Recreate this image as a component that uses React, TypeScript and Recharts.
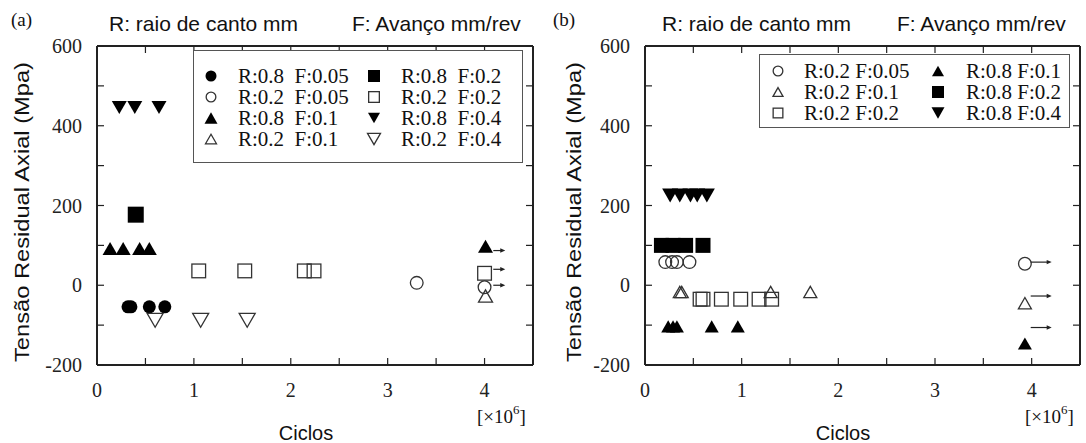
import React from 'react';
import { ScatterChart, Scatter, XAxis, YAxis, Legend } from 'recharts';

type Pt = { x: number; y: number };

// ---------- Panel (a) data ----------
const a_R08_F005: Pt[] = [
  { x: 0.32, y: -54 }, { x: 0.35, y: -54 }, { x: 0.54, y: -54 }, { x: 0.7, y: -54 },
];
const a_R02_F005: Pt[] = [{ x: 3.3, y: 6 }, { x: 4.0, y: -5 }];
const a_R08_F01: Pt[] = [
  { x: 0.135, y: 92 }, { x: 0.27, y: 92 }, { x: 0.44, y: 92 }, { x: 0.54, y: 92 }, { x: 4.01, y: 98 },
];
const a_R02_F01: Pt[] = [{ x: 4.01, y: -27 }];
const a_R08_F02: Pt[] = [{ x: 0.4, y: 177 }];
const a_R02_F02: Pt[] = [
  { x: 1.05, y: 36 }, { x: 1.525, y: 36 }, { x: 2.14, y: 36 }, { x: 2.24, y: 36 }, { x: 4.0, y: 30 },
];
const a_R08_F04: Pt[] = [{ x: 0.23, y: 446 }, { x: 0.39, y: 446 }, { x: 0.64, y: 446 }];
const a_R02_F04: Pt[] = [{ x: 0.6, y: -88 }, { x: 1.07, y: -88 }, { x: 1.55, y: -88 }];
const a_runout: Pt[] = [{ x: 4.09, y: 87 }, { x: 4.09, y: 40 }, { x: 4.09, y: 0 }];

// ---------- Panel (b) data ----------
const b_R02_F005: Pt[] = [
  { x: 0.21, y: 58 }, { x: 0.28, y: 58 }, { x: 0.33, y: 58 }, { x: 0.46, y: 58 }, { x: 3.93, y: 54 },
];
const b_R02_F01: Pt[] = [
  { x: 0.36, y: -17 }, { x: 0.38, y: -17 }, { x: 1.3, y: -17 }, { x: 1.71, y: -17 }, { x: 3.93, y: -45 },
];
const b_R02_F02: Pt[] = [
  { x: 0.57, y: -35 }, { x: 0.6, y: -35 }, { x: 0.79, y: -35 }, { x: 0.99, y: -35 }, { x: 1.18, y: -35 }, { x: 1.31, y: -35 },
];
const b_R08_F01: Pt[] = [
  { x: 0.24, y: -103 }, { x: 0.29, y: -103 }, { x: 0.33, y: -103 }, { x: 0.69, y: -103 }, { x: 0.96, y: -103 }, { x: 3.93, y: -146 },
];
const b_R08_F02: Pt[] = [{ x: 0.17, y: 100 }, { x: 0.29, y: 100 }, { x: 0.42, y: 100 }, { x: 0.6, y: 100 }];
const b_R08_F04: Pt[] = [
  { x: 0.26, y: 225 }, { x: 0.36, y: 225 }, { x: 0.47, y: 225 }, { x: 0.54, y: 225 }, { x: 0.64, y: 225 },
];
const b_runout: Pt[] = [{ x: 3.99, y: 58 }, { x: 3.99, y: -27 }, { x: 3.99, y: -106 }];

// ---------- axes ----------
const xTicks = [0, 0.5, 1, 1.5, 2, 2.5, 3, 3.5, 4, 4.5];
const xTickLabels = [0, 1, 2, 3, 4];
const yTicks = [-200, -100, 0, 100, 200, 300, 400, 500, 600];
const yTickLabels = [-200, 0, 200, 400, 600];

const SERIF = '"Liberation Serif", "Times New Roman", serif';
const SANS = '"Liberation Sans", Arial, sans-serif';
const INK = '#222';

type Kind = 'circle' | 'square' | 'up' | 'down';
type Series = { name: string; kind: Kind; filled: boolean; w: number; lw: number; data: Pt[] };

const seriesA: Series[] = [
  { name: 'R:0.8  F:0.05', kind: 'circle', filled: true, w: 13, lw: 11, data: a_R08_F005 },
  { name: 'R:0.2  F:0.05', kind: 'circle', filled: false, w: 14, lw: 11, data: a_R02_F005 },
  { name: 'R:0.8  F:0.1', kind: 'up', filled: true, w: 15, lw: 13, data: a_R08_F01 },
  { name: 'R:0.2  F:0.1', kind: 'up', filled: false, w: 14, lw: 11, data: a_R02_F01 },
  { name: 'R:0.8  F:0.2', kind: 'square', filled: true, w: 16, lw: 12, data: a_R08_F02 },
  { name: 'R:0.2  F:0.2', kind: 'square', filled: false, w: 15, lw: 12, data: a_R02_F02 },
  { name: 'R:0.8  F:0.4', kind: 'down', filled: true, w: 15, lw: 12, data: a_R08_F04 },
  { name: 'R:0.2  F:0.4', kind: 'down', filled: false, w: 16, lw: 13, data: a_R02_F04 },
];

const seriesB: Series[] = [
  { name: 'R:0.2 F:0.05', kind: 'circle', filled: false, w: 14, lw: 11, data: b_R02_F005 },
  { name: 'R:0.2 F:0.1', kind: 'up', filled: false, w: 13, lw: 10, data: b_R02_F01 },
  { name: 'R:0.2 F:0.2', kind: 'square', filled: false, w: 15, lw: 11, data: b_R02_F02 },
  { name: 'R:0.8 F:0.1', kind: 'up', filled: true, w: 14, lw: 12, data: b_R08_F01 },
  { name: 'R:0.8 F:0.2', kind: 'square', filled: true, w: 15, lw: 12, data: b_R08_F02 },
  { name: 'R:0.8 F:0.4', kind: 'down', filled: true, w: 16, lw: 13, data: b_R08_F04 },
];

function markerEl(kind: Kind, filled: boolean, w: number, cx: number, cy: number) {
  const sw = 1.3;
  const fill = filled ? '#000' : 'none';
  const stroke = filled ? 'none' : '#333';
  const r = w / 2;
  if (kind === 'circle') {
    return <circle cx={cx} cy={cy} r={filled ? r : r - sw / 2} fill={fill} stroke={stroke} strokeWidth={sw} />;
  }
  if (kind === 'square') {
    const s = filled ? w : w - sw;
    return <rect x={cx - s / 2} y={cy - s / 2} width={s} height={s} fill={fill} stroke={stroke} strokeWidth={sw} />;
  }
  const h = w * 0.87;
  const pts =
    kind === 'up'
      ? `${cx},${cy - h / 2} ${cx - r},${cy + h / 2} ${cx + r},${cy + h / 2}`
      : `${cx - r},${cy - h / 2} ${cx + r},${cy - h / 2} ${cx},${cy + h / 2}`;
  return <polygon points={pts} fill={fill} stroke={stroke} strokeWidth={sw} strokeLinejoin="miter" />;
}

const bottomTick = (p: any) => {
  const { x, y, payload } = p;
  const v = payload.value;
  return (
    <g>
      <line x1={x} x2={x} y1={y} y2={y - 7} stroke={INK} strokeWidth={1.2} />
      {xTickLabels.includes(v) && (
        <text x={x} y={y + 32} textAnchor="middle" fontFamily={SERIF} fontSize={20} fill={INK}>
          {v}
        </text>
      )}
    </g>
  );
};
const topTick = (p: any) => {
  const { x, y } = p;
  return <line x1={x} x2={x} y1={y} y2={y + 7} stroke={INK} strokeWidth={1.2} />;
};
const leftTick = (p: any) => {
  const { x, y, payload } = p;
  const v = payload.value;
  return (
    <g>
      <line x1={x} x2={x + 7} y1={y} y2={y} stroke={INK} strokeWidth={1.2} />
      {yTickLabels.includes(v) && (
        <text x={x - 15} y={y + 7} textAnchor="end" fontFamily={SERIF} fontSize={20} fill={INK}>
          {v}
        </text>
      )}
    </g>
  );
};
const rightTick = (p: any) => {
  const { x, y } = p;
  return <line x1={x} x2={x - 7} y1={y} y2={y} stroke={INK} strokeWidth={1.2} />;
};

const arrowShape = (len: number) => (p: any) => {
  const { cx, cy } = p;
  return (
    <g>
      <line x1={cx} x2={cx + len - 4} y1={cy} y2={cy} stroke="#222" strokeWidth={1.2} />
      <polygon points={`${cx + len},${cy} ${cx + len - 5},${cy - 2.2} ${cx + len - 5},${cy + 2.2}`} fill="#222" />
    </g>
  );
};

type LegendGeom = {
  left: number; top: number; width: number; height: number;
  rows: number; row0: number; rowStep: number;
  icon: [number, number]; text: [number, number];
};

function LegendBox({ series, g }: { series: Series[]; g: LegendGeom }) {
  const hh = g.rowStep;
  return (
    <div
      style={{
        position: 'relative', width: g.width, height: g.height, boxSizing: 'border-box',
        border: '1.5px solid #555', background: '#fff',
      }}
    >
      {series.map((s, i) => {
        const col = Math.floor(i / g.rows);
        const row = i % g.rows;
        const cy = g.row0 + row * g.rowStep;
        return (
          <React.Fragment key={s.name}>
            <svg width={20} height={20} style={{ position: 'absolute', left: g.icon[col] - 10, top: cy - 10 }}>
              {markerEl(s.kind, s.filled, s.lw, 10, 10)}
            </svg>
            <div
              style={{
                position: 'absolute', left: g.text[col], top: cy - hh / 2, height: hh, lineHeight: `${hh}px`,
                fontFamily: SERIF, fontSize: 21, color: '#111', whiteSpace: 'pre',
              }}
            >
              {s.name}
            </div>
          </React.Fragment>
        );
      })}
    </div>
  );
}

const AX = { stroke: INK, strokeWidth: 2 };

function Panel({
  series, runout, arrowLen, margin, rightW, legend,
}: {
  series: Series[]; runout: Pt[]; arrowLen: number;
  margin: { top: number; right: number; bottom: number; left: number }; rightW: number; legend: LegendGeom;
}) {
  return (
    <ScatterChart width={543} height={443} margin={margin}>
      <XAxis xAxisId="b" dataKey="x" type="number" domain={[0, 4.5]} ticks={xTicks} interval={0}
        allowDataOverflow orientation="bottom" height={30} axisLine={AX} tickLine={false}
        tickSize={0} tickMargin={0} tick={bottomTick} />
      <XAxis xAxisId="t" dataKey="x" type="number" domain={[0, 4.5]} ticks={xTicks} interval={0}
        allowDataOverflow orientation="top" height={10} axisLine={AX} tickLine={false}
        tickSize={0} tickMargin={0} tick={topTick} />
      <YAxis yAxisId="l" dataKey="y" type="number" domain={[-200, 600]} ticks={yTicks} interval={0}
        allowDataOverflow orientation="left" width={40} axisLine={AX} tickLine={false}
        tickSize={0} tickMargin={0} tick={leftTick} />
      <YAxis yAxisId="r" dataKey="y" type="number" domain={[-200, 600]} ticks={yTicks} interval={0}
        allowDataOverflow orientation="right" width={rightW} axisLine={AX} tickLine={false}
        tickSize={0} tickMargin={0} tick={rightTick} />
      {series.map((s) => (
        <Scatter key={s.name} name={s.name} data={s.data} xAxisId="b" yAxisId="l" isAnimationActive={false}
          shape={(p: any) => markerEl(s.kind, s.filled, s.w, p.cx, p.cy)} />
      ))}
      <Scatter name="runout" data={runout} xAxisId="b" yAxisId="l" isAnimationActive={false}
        shape={arrowShape(arrowLen)} />
      <Legend layout="horizontal" verticalAlign="middle" align="center"
        wrapperStyle={{ left: legend.left, top: legend.top, width: legend.width, height: legend.height }}
        content={() => <LegendBox series={series} g={legend} />} />
    </ScatterChart>
  );
}

const legendA: LegendGeom = {
  left: 193, top: 50, width: 330, height: 113, rows: 4, row0: 25, rowStep: 21,
  icon: [17, 180], text: [44, 207],
};
const legendB: LegendGeom = {
  left: 216, top: 54, width: 311, height: 74, rows: 3, row0: 16, rowStep: 21,
  icon: [18, 178], text: [44, 206],
};

function Overlay() {
  const title = 'Tensão Residual Axial (Mpa)';
  const t = { fontFamily: SANS, fontSize: 21, fill: '#111' } as const;
  const s = { fontFamily: SERIF, fill: '#111' } as const;
  return (
    <svg width={1086} height={443} style={{ position: 'absolute', left: 0, top: 0, pointerEvents: 'none' }}>
      <text x={11} y={26} fontSize={19} {...s}>(a)</text>
      <text x={553} y={26} fontSize={19} {...s}>(b)</text>
      <text x={109} y={31} {...t}>R: raio de canto mm</text>
      <text x={352} y={31} {...t}>F: Avanço mm/rev</text>
      <text x={662} y={31} {...t}>R: raio de canto mm</text>
      <text x={897} y={31} {...t}>F: Avanço mm/rev</text>
      <text transform="translate(29,212) rotate(-90)" textAnchor="middle" textLength={300}
        lengthAdjust="spacingAndGlyphs" {...t}>{title}</text>
      <text transform="translate(581,212) rotate(-90)" textAnchor="middle" textLength={300}
        lengthAdjust="spacingAndGlyphs" {...t}>{title}</text>
      <text x={306} y={440} textAnchor="middle" {...t} fontSize={20}>Ciclos</text>
      <text x={843} y={440} textAnchor="middle" {...t} fontSize={20}>Ciclos</text>
      <text x={477} y={423} fontSize={19} {...s}>[×10<tspan dy={-9} fontSize={13}>6</tspan><tspan dy={9}>]</tspan></text>
      <text x={1025} y={423} fontSize={19} {...s}>[×10<tspan dy={-9} fontSize={13}>6</tspan><tspan dy={9}>]</tspan></text>
    </svg>
  );
}

export default function App() {
  return (
    <div style={{ position: 'absolute', left: 0, top: 0, width: 1086, height: 443, background: '#fff', overflow: 'hidden' }}>
      <div style={{ position: 'absolute', left: 0, top: 0 }}>
        <Panel series={seriesA} runout={a_runout} arrowLen={12}
          margin={{ top: 36, right: 0, bottom: 48, left: 57 }} rightW={10} legend={legendA} />
      </div>
      <div style={{ position: 'absolute', left: 543, top: 0 }}>
        <Panel series={seriesB} runout={b_runout} arrowLen={21}
          margin={{ top: 36, right: 0, bottom: 48, left: 62 }} rightW={6} legend={legendB} />
      </div>
      <Overlay />
    </div>
  );
}
